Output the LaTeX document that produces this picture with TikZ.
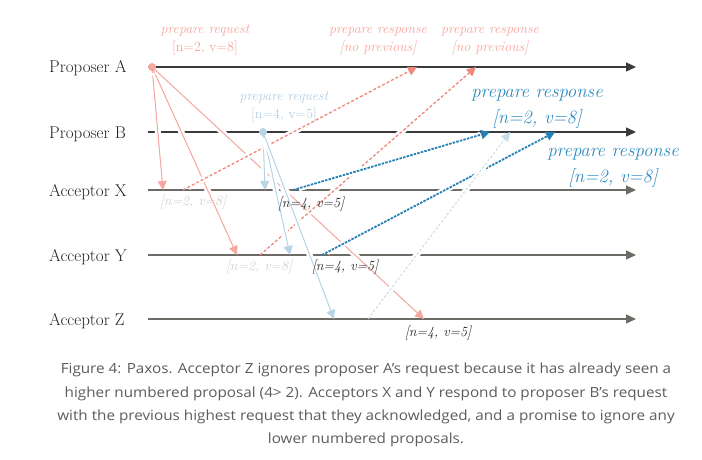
\documentclass[tikz,border=0pt]{standalone}
\usepackage{fontspec}
\newfontfamily\capfont[FakeStretch=1.09]{Open Sans}
\usetikzlibrary{arrows.meta}
\definecolor{pinkL}{HTML}{F6A8A0}
\definecolor{pinkD}{HTML}{F0877D}
\definecolor{pinkT}{HTML}{F6A49C}
\definecolor{blueL}{HTML}{B8D5E6}
\definecolor{blueD}{HTML}{2581B4}
\definecolor{blueT}{HTML}{C6DCE8}
\definecolor{blueLab}{HTML}{2E8BC0}
\definecolor{blueLT}{HTML}{B3CEDF}
\definecolor{lineA}{HTML}{3A3A3A}
\definecolor{lineX}{HTML}{6E6A66}
\definecolor{grayT}{HTML}{CDCDCD}
\definecolor{darkT}{HTML}{222222}
\definecolor{capC}{HTML}{5C5C5C}
\newcommand\linkto[3]{\draw[halobg] (#2) -- (#3); \draw[#1] (#2) -- (#3);}
\begin{document}
\begin{tikzpicture}[x=1pt,y=-1pt,
  timeline/.style={line width=1.3pt,-{Triangle[length=10pt,width=9pt]}},
  halobg/.style={draw=white,line width=6pt,shorten <=6pt,shorten >=10pt},
  arrowtip/.style={-{Triangle[length=9pt,width=9pt]}},
  reqA/.style={arrowtip,draw=pinkL,fill=pinkL,line width=1pt},
  reqB/.style={arrowtip,draw=blueL,fill=blueL,line width=1pt},
  respA/.style={arrowtip,draw=pinkD,line width=1.3pt,dash pattern=on 3pt off 2pt},
  respB/.style={arrowtip,draw=blueD,line width=1.8pt,dash pattern=on 2.5pt off 1.2pt},
  respZ/.style={arrowtip,draw=blueT,line width=1pt,dash pattern=on 2.5pt off 2pt},
  evdot/.style={circle,inner sep=0pt,minimum size=8pt},
  actor/.style={anchor=base west,inner sep=0pt,text=darkT,font=\fontsize{17}{19}\selectfont},
  smalltext/.style={anchor=base,inner sep=0pt,font=\fontsize{14}{15}\selectfont},
  smallit/.style={anchor=base,inner sep=0pt,font=\fontsize{14}{15}\selectfont\itshape},
  bigtext/.style={anchor=base,inner sep=0pt,text=blueLab,font=\fontsize{18.8}{20}\selectfont\itshape},
  valtext/.style={anchor=base,inner sep=0pt,font=\fontsize{14}{16}\selectfont\itshape},
  captext/.style={anchor=base,inner sep=0pt,text=capC,font=\capfont\fontsize{14}{18}\selectfont}
]
\useasboundingbox (0,0) rectangle (702,460);

% actor labels
\node[actor] (lA) at (49,73) {Proposer A};
\node[actor] (lB) at (49,138) {Proposer B};
\node[actor] (lX) at (49,196) {Acceptor X};
\node[actor] (lY) at (49,261) {Acceptor Y};
\node[actor] (lZ) at (49,325) {Acceptor Z};

% timelines
\coordinate (A0) at (148,67);  \coordinate (A1) at (636,67);
\coordinate (B0) at (148,132); \coordinate (B1) at (636,132);
\coordinate (X0) at (148,190); \coordinate (X1) at (636,190);
\coordinate (Y0) at (148,255); \coordinate (Y1) at (636,255);
\coordinate (Z0) at (148,319); \coordinate (Z1) at (636,319);
\draw[timeline,draw=lineA,fill=lineA] (A0) -- (A1);
\draw[timeline,draw=lineA,fill=lineA] (B0) -- (B1);
\draw[timeline,draw=lineX,fill=lineX] (X0) -- (X1);
\draw[timeline,draw=lineX,fill=lineX] (Y0) -- (Y1);
\draw[timeline,draw=lineX,fill=lineX] (Z0) -- (Z1);

% event points
\coordinate (pA) at (152,67);
\coordinate (pB) at (263,132);
\coordinate (xA) at (163,190);
\coordinate (yA) at (237,255);
\coordinate (zA) at (424,319);
\coordinate (xB) at (265,190);
\coordinate (yB) at (290,255);
\coordinate (zB) at (334,319);
\coordinate (xr1) at (183,190);
\coordinate (yr1) at (260,255);
\coordinate (ar1) at (417,67);
\coordinate (ar2) at (476,67);
\coordinate (xr2) at (293,190);
\coordinate (yr2) at (322,255);
\coordinate (zr2) at (368,319);
\coordinate (br1) at (490,132);
\coordinate (br2) at (555,132);
\coordinate (br3) at (510,132);

% proposer A requests
\linkto{reqA}{pA}{xA}
\linkto{reqA}{pA}{yA}
\linkto{reqA}{pA}{zA}
% responses to A
\linkto{respA}{xr1}{ar1}
\linkto{respA}{yr1}{ar2}
% proposer B requests
\linkto{reqB}{pB}{xB}
\linkto{reqB}{pB}{yB}
\linkto{reqB}{pB}{zB}
% responses to B
\linkto{respB}{xr2}{br1}
\linkto{respB}{yr2}{br2}
\linkto{respZ}{zr2}{br3}

% dots
\node[evdot,fill=pinkL] (dA) at (pA) {};
\node[evdot,fill=blueL] (dB) at (pB) {};

% labels top
\node[smallit,text=pinkT] (t1a) at (205,34) {prepare request};
\node[smalltext,text=pinkT] (t1b) at (205,52) {[n=2, v=8]};
\node[smallit,text=pinkT] (t2a) at (378,34) {prepare response};
\node[smallit,text=pinkT] (t2b) at (378,52) {[no previous]};
\node[smallit,text=pinkT] (t3a) at (490,34) {prepare response};
\node[smallit,text=pinkT] (t3b) at (490,52) {[no previous]};
\node[smallit,text=blueLT] (t4a) at (284,100) {prepare request};
\node[smalltext,text=blueLT] (t4b) at (284,118) {[n=4, v=5]};
\node[bigtext] (t5a) at (537,97) {prepare response};
\node[bigtext] (t5b) at (537,123) {[n=2, v=8]};
\node[bigtext] (t6a) at (613,157) {prepare response};
\node[bigtext] (t6b) at (613,182) {[n=2, v=8]};

% acceptor states
\node[valtext,text=grayT] (sX1) at (193,205) {[n=2, v=8]};
\node[valtext,text=darkT] (sX2) at (311,207) {[n=4, v=5]};
\node[valtext,text=grayT] (sY1) at (259,270) {[n=2, v=8]};
\node[valtext,text=darkT] (sY2) at (345,270) {[n=4, v=5]};
\node[valtext,text=darkT] (sZ) at (438,336) {[n=4, v=5]};

% caption
\node[captext] (c1) at (366,373) {Figure 4: Paxos. Acceptor Z ignores proposer A’s request because it has already seen a};
\node[captext] (c2) at (366,397) {higher numbered proposal (4> 2). Acceptors X and Y respond to proposer B’s request};
\node[captext] (c3) at (366,420) {with the previous highest request that they acknowledged, and a promise to ignore any};
\node[captext] (c4) at (366,443) {lower numbered proposals.};
\end{tikzpicture}
\end{document}
